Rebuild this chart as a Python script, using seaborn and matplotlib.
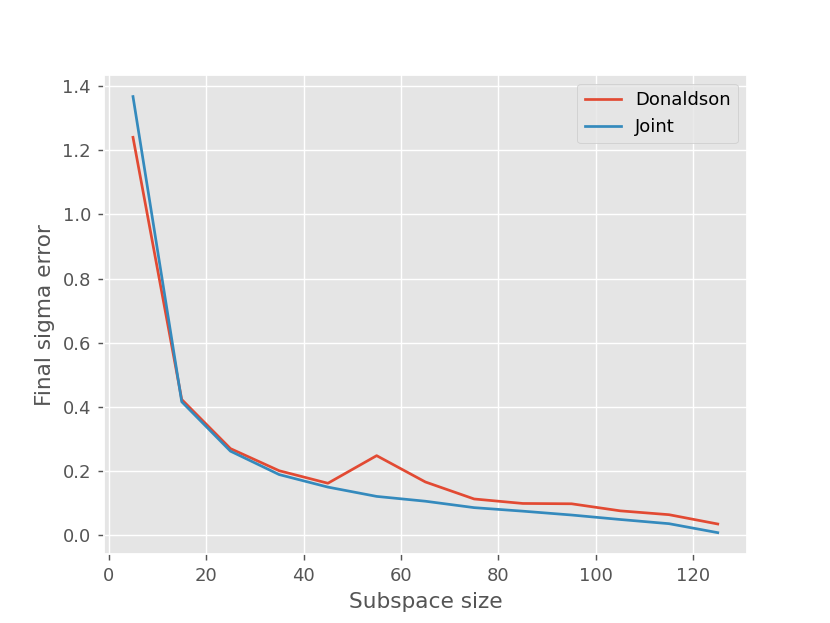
import pandas as pd
import matplotlib.pyplot as plt
import seaborn as sns

subspace_size = [5, 15, 25, 35, 45, 55, 65, 75, 85, 95, 105, 115, 125]
donaldson_err = [1.24, 0.423, 0.270, 0.201, 0.162, 0.248, 0.166, 0.113, 0.099, 0.098, 0.076, 0.064, 0.035]
joint_err = [1.367, 0.416, 0.262, 0.189, 0.150, 0.121, 0.106, 0.086, 0.075, 0.063, 0.049, 0.036, 0.008]

df = pd.DataFrame({'size': subspace_size, 'Donaldson': donaldson_err, 'Joint': joint_err})

plt.style.use('ggplot')
fig, ax = plt.subplots(figsize=(830 / 130, 623 / 130), dpi=130)

sns.lineplot(x='size', y='Donaldson', data=df, color='#E24A33', label='Donaldson', ax=ax)
sns.lineplot(x='size', y='Joint', data=df, color='#348ABD', label='Joint', ax=ax)

ax.set_xlabel('Subspace size')
ax.set_ylabel('Final sigma error')
ax.legend(loc='upper right')
plt.savefig('out.png', dpi=130)
